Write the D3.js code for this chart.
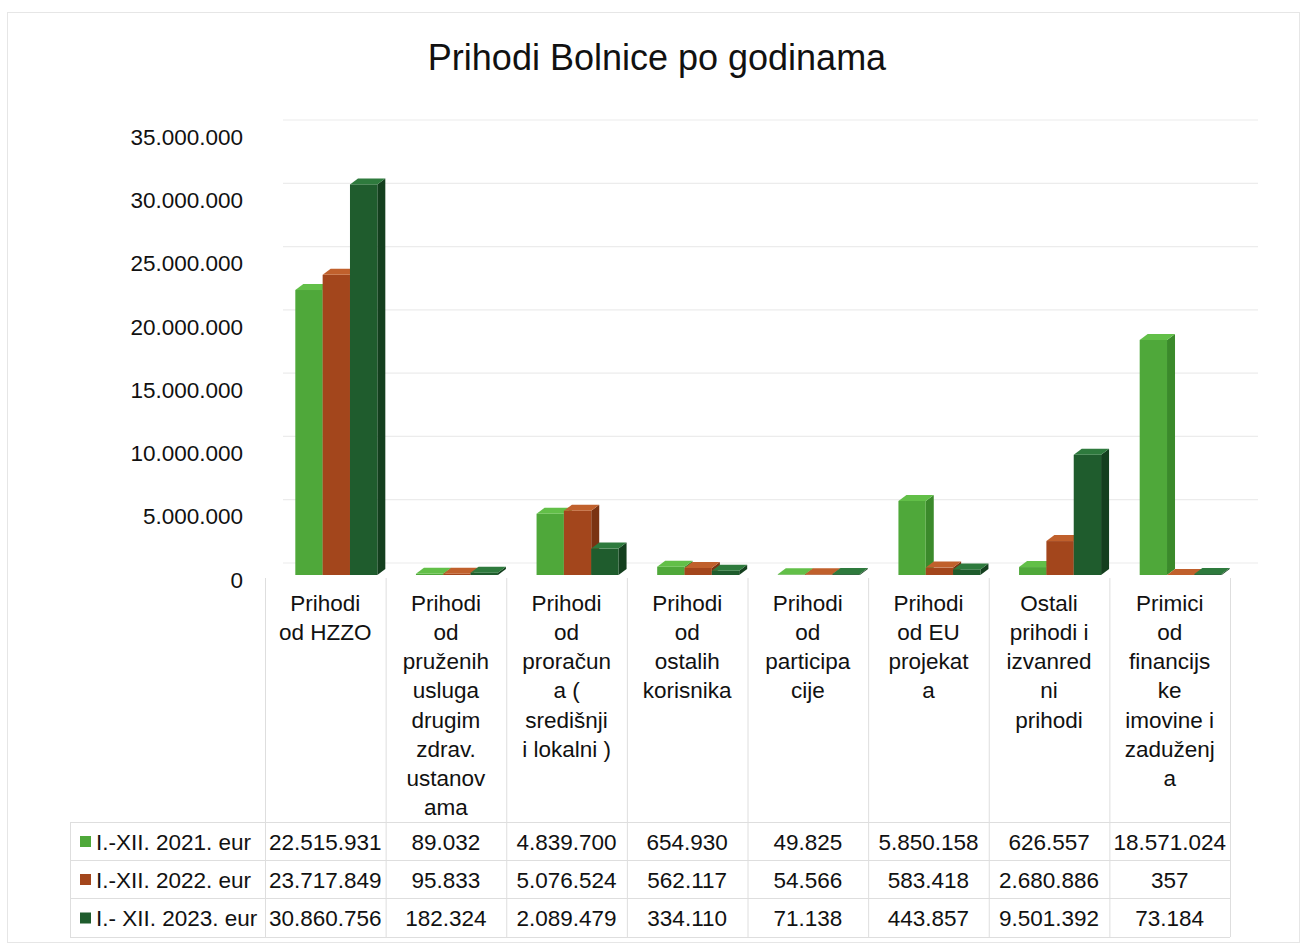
<!DOCTYPE html>
<html>
<head>
<meta charset="utf-8">
<script src="https://cdn.jsdelivr.net/npm/d3@7/dist/d3.min.js"></script>
<style>
  body { margin: 0; background: #fff; }
  svg { font-family: "Liberation Sans", Arial, sans-serif; }
</style>
</head>
<body>
<div id="chart"></div>
<script>
// data
const categories = ['HZZO', 'usluge', 'proracun', 'korisnici', 'participacije', 'EU', 'ostali', 'primici']
const categoryLines = [
  ['Prihodi', 'od HZZO'],
  ['Prihodi', 'od', 'pruženih', 'usluga', 'drugim', 'zdrav.', 'ustanov', 'ama'],
  ['Prihodi', 'od', 'proračun', 'a (', 'središnji', 'i lokalni )'],
  ['Prihodi', 'od', 'ostalih', 'korisnika'],
  ['Prihodi', 'od', 'participa', 'cije'],
  ['Prihodi', 'od EU', 'projekat', 'a'],
  ['Ostali', 'prihodi i', 'izvanred', 'ni', 'prihodi'],
  ['Primici', 'od', 'financijs', 'ke', 'imovine i', 'zaduženj', 'a']
]
const seriesNames = ['I.-XII. 2021. eur', 'I.-XII. 2022. eur', 'I.- XII. 2023. eur']
const values2021 = [22515931, 89032, 4839700, 654930, 49825, 5850158, 626557, 18571024]
const values2022 = [23717849, 95833, 5076524, 562117, 54566, 583418, 2680886, 357]
const values2023 = [30860756, 182324, 2089479, 334110, 71138, 443857, 9501392, 73184]
const yTicks = [0, 5000000, 10000000, 15000000, 20000000, 25000000, 30000000, 35000000]

const seriesValues = [values2021, values2022, values2023]
const palette = [
  { front: '#4fa83a', top: '#62bf48', side: '#3b8a2b' },
  { front: '#a3461c', top: '#c0602c', side: '#7a3312' },
  { front: '#1f5c2d', top: '#2e7a3d', side: '#143f1e' }
]

const W = 1305, H = 949
const svg = d3.select('#chart').append('svg').attr('width', W).attr('height', H)

// outer frame
svg.append('rect').attr('x', 7.5).attr('y', 12.5).attr('width', 1292).attr('height', 930)
  .attr('fill', 'none').attr('stroke', '#e6e6e6')

// title
svg.append('text').attr('x', 657).attr('y', 70).attr('text-anchor', 'middle')
  .attr('font-size', 36).attr('fill', '#111').text('Prihodi Bolnice po godinama')

const loc = d3.formatLocale({ decimal: ',', thousands: '.', grouping: [3], currency: ['', ''] })
const fmt = loc.format(',d')

const y = d3.scaleLinear().domain([0, 35000000]).range([580, 137])
const x = d3.scaleBand().domain(categories).range([265, 1230])
const xs = d3.scaleBand().domain(seriesNames).range([0, 82])

const barOff = -5   // bar base sits a little above the label zero
const wallOff = -17 // back-wall gridlines
const dx = 8, dy = -6
const fs = 22.5

// gridlines
svg.append('g').selectAll('line').data(yTicks).join('line')
  .attr('x1', 283).attr('x2', 1258)
  .attr('y1', d => y(d) + wallOff).attr('y2', d => y(d) + wallOff)
  .attr('stroke', '#ececec').attr('stroke-width', 1.2)

// y axis labels
const yAxis = d3.axisLeft(y).tickValues(yTicks).tickFormat(fmt).tickSize(0).tickPadding(0)
svg.append('g').attr('transform', 'translate(243,0)').call(yAxis)
  .call(g => g.select('.domain').remove())
  .call(g => g.selectAll('text').attr('font-size', fs).attr('fill', '#111')
    .attr('font-family', '"Liberation Sans", Arial, sans-serif'))

// bars (3D columns)
const bars = svg.append('g')
categories.forEach((c, ci) => {
  const left = x(c) + x.bandwidth() / 2 - 30
  seriesNames.forEach((s, si) => {
    const v = seriesValues[si][ci]
    const x0 = left + xs(s), w = xs.bandwidth()
    const yb = y(0) + barOff, yt = y(v) + barOff
    const col = palette[si]
    const g = bars.append('g')
    g.append('polygon').attr('fill', col.side)
      .attr('points', [[x0 + w, yt], [x0 + w + dx, yt + dy], [x0 + w + dx, yb + dy], [x0 + w, yb]].join(' '))
    g.append('rect').attr('x', x0).attr('y', yt).attr('width', w).attr('height', Math.max(0, yb - yt))
      .attr('fill', col.front)
    g.append('polygon').attr('fill', col.top)
      .attr('points', [[x0, yt], [x0 + dx, yt + dy], [x0 + w + dx, yt + dy], [x0 + w, yt]].join(' '))
  })
})

// data table
const table = svg.append('g').attr('stroke', '#dedede').attr('stroke-width', 1)
const rowLines = [822, 860, 898, 937]
const colEdges = categories.map(c => x(c)).concat([x.range()[1]])
table.selectAll('line.v').data(colEdges).join('line').attr('class', 'v')
  .attr('x1', d => d + 0.5).attr('x2', d => d + 0.5).attr('y1', 578).attr('y2', 937)
table.append('line').attr('x1', 70.5).attr('x2', 70.5).attr('y1', 822).attr('y2', 937)
table.selectAll('line.h').data(rowLines).join('line').attr('class', 'h')
  .attr('x1', 70).attr('x2', 1230).attr('y1', d => d + 0.5).attr('y2', d => d + 0.5)

// category labels
categoryLines.forEach((lines, ci) => {
  const t = svg.append('text').attr('text-anchor', 'middle').attr('font-size', fs).attr('fill', '#111')
  lines.forEach((l, li) => {
    t.append('tspan').attr('x', x(categories[ci]) + x.bandwidth() / 2)
      .attr('y', 603 + li * 29.2).attr('dy', '0.35em').text(l)
  })
})

// rows
seriesNames.forEach((s, si) => {
  const cy = (rowLines[si] + rowLines[si + 1]) / 2 + 1
  svg.append('rect').attr('x', 80).attr('y', cy - 6).attr('width', 11).attr('height', 11)
    .attr('fill', palette[si].front)
  svg.append('text').attr('x', 96).attr('y', cy).attr('dy', '0.35em')
    .attr('font-size', fs).attr('fill', '#111').text(s)
  categories.forEach((c, ci) => {
    svg.append('text').attr('x', x(c) + x.bandwidth() / 2).attr('y', cy).attr('dy', '0.35em')
      .attr('text-anchor', 'middle').attr('font-size', fs).attr('fill', '#111')
      .text(fmt(seriesValues[si][ci]))
  })
})
</script>
</body>
</html>
